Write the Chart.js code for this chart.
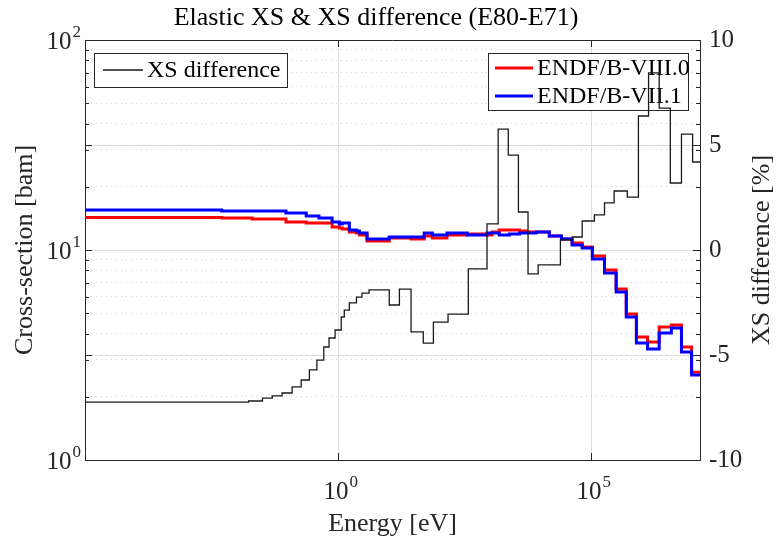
<!DOCTYPE html>
<html>
<head>
<meta charset="utf-8">
<title>Elastic XS & XS difference</title>
<script src="https://cdn.jsdelivr.net/npm/chart.js@4.4.1/dist/chart.umd.min.js"></script>
<style>
    body { margin: 0; background: #fff; }
    #wrap { width: 780px; height: 545px; }
</style>
</head>
<body>
<div id="wrap"><canvas id="xsChart" width="780" height="545"></canvas></div>
<script>
// Енергетична сітка (еВ) - ліві межі груп
const xsEnergy = [1e-5, 5e-3, 0.02, 0.093, 0.234, 0.417, 0.759, 1.05, 1.2, 1.66, 2.29, 2.63, 3.72,
    10.2, 27.5, 50.1, 72.4, 141, 355, 871, 1096, 1514, 2399, 3802, 5248, 8128, 14791, 25704,
    41687, 66069, 104713, 181970, 309030, 489779, 776247, 1.288e6, 2.188e6, 3.802e6, 6.026e6, 9.55e6, 1.4e7];
// Пружний переріз, барн
const xsE80 = [14.3, 14.21, 14.05, 13.6, 13.45, 13.45, 12.87, 12.73, 12.59, 12.18, 12.05, 11.79, 11.04,
    11.41, 11.28, 11.66, 11.41, 11.79, 11.92, 11.79, 12.18, 12.45, 12.45, 12.31, 12.18, 12.18, 11.66, 11.28,
    10.80, 10.33, 9.36, 8.03, 6.52, 4.96, 3.85, 3.65, 4.30, 4.39, 3.45, 2.62, 2.62];
const xsE71 = [15.5, 15.33, 15.33, 15.0, 14.52, 14.21, 13.6, 13.3, 13.45, 12.45, 12.31, 12.05, 11.28,
    11.53, 11.53, 12.05, 11.79, 12.05, 11.79, 12.05, 12.05, 11.79, 11.92, 12.05, 12.05, 12.18, 11.66, 11.28,
    10.56, 10.22, 9.06, 7.77, 6.31, 4.80, 3.61, 3.38, 4.03, 4.25, 3.27, 2.54, 2.54];

// Різниця перерізів (E80-E71), %
const diffEnergy = [1e-5, 0.017, 0.032, 0.05, 0.078, 0.123, 0.186, 0.27, 0.38, 0.52, 0.66, 0.87, 1.15,
    1.32, 1.66, 2.3, 2.95, 4.07, 10.2, 16.2, 27.5, 48, 76, 148, 372, 870, 1445, 2290, 3630, 5620, 8900,
    24500, 41700, 66000, 115000, 182000, 282000, 513000, 851000, 1.35e6, 2.19e6, 3.63e6, 6.03e6, 1e7, 1.4e7];
const diffPercent = [-7.24, -7.19, -7.05, -6.95, -6.81, -6.52, -6.19, -5.71, -5.24, -4.62, -4.19, -3.81, -3.19,
    -2.86, -2.52, -2.24, -2.05, -1.90, -2.62, -1.86, -3.90, -4.43, -3.43, -3.05, -0.90, 1.24, 5.76, 4.52, 1.81,
    -1.14, -0.71, 0.48, 0.62, 1.38, 1.67, 2.24, 2.81, 2.52, 6.38, 8.43, 6.76, 3.19, 5.52, 4.19, 4.19];

// Поділки осей
const xTickValues = [1, 1e5];
const xTickExponents = ['0', '5'];
const yTickValues = [1, 10, 100];
const yTickExponents = ['0', '1', '2'];
const yMinorValues = [2, 3, 4, 5, 6, 7, 8, 9, 20, 30, 40, 50, 60, 70, 80, 90];

const FONT = '"Liberation Serif", "Times New Roman", serif';
const INK = '#262626';
const GRID = '#dedede';

function toPoints(xs, ys) {
    return xs.map((x, i) => ({ x: x, y: ys[i] }));
}

// Текст з показником степеня: "10" + верхній індекс
function drawPower(ctx, exp, x, y, align) {
    ctx.font = '25px ' + FONT;
    const baseW = ctx.measureText('10').width;
    ctx.font = '17px ' + FONT;
    const expW = ctx.measureText(exp).width;
    const total = baseW + expW;
    let left = x;
    if (align === 'right') left = x - total;
    if (align === 'center') left = x - total / 2;
    ctx.textAlign = 'left';
    ctx.textBaseline = 'alphabetic';
    ctx.font = '25px ' + FONT;
    ctx.fillText('10', left, y + 9);
    ctx.font = '17px ' + FONT;
    ctx.fillText(exp, left + baseW + 1, y - 3);
}

function legendBox(ctx, x, y, w, h) {
    ctx.fillStyle = '#fff';
    ctx.fillRect(x, y, w, h);
    ctx.strokeStyle = INK;
    ctx.lineWidth = 1;
    ctx.strokeRect(x + 0.5, y + 0.5, w, h);
}

function legendItem(ctx, color, width, label, x1, x2, y) {
    ctx.strokeStyle = color;
    ctx.lineWidth = width;
    ctx.beginPath();
    ctx.moveTo(x1, y);
    ctx.lineTo(x2, y);
    ctx.stroke();
    ctx.fillStyle = '#000';
    ctx.font = '24px ' + FONT;
    ctx.textAlign = 'left';
    ctx.textBaseline = 'middle';
    ctx.fillText(label, x2 + 4, y + 1);
}

// Рамка, внутрішні поділки, підписи, легенди
const decorPlugin = {
    id: 'decor',
    beforeDatasetsDraw(chart) {
        const ctx = chart.ctx;
        const ds = chart.data.datasets;
        ctx.save();
        legendBox(ctx, 94, 53, 193, 34);
        legendItem(ctx, ds[0].borderColor, 1.3, ds[0].label, 103, 143, 70);
        legendBox(ctx, 488, 53, 200, 57);
        legendItem(ctx, ds[2].borderColor, 3, ds[2].label, 495, 533, 68);
        legendItem(ctx, ds[1].borderColor, 3, ds[1].label, 495, 533, 96);
        ctx.restore();
    },
    afterDraw(chart) {
        const ctx = chart.ctx;
        const a = chart.chartArea;
        const sx = chart.scales.x, sy = chart.scales.y, sy1 = chart.scales.y1;
        ctx.save();

        ctx.strokeStyle = INK;
        ctx.lineWidth = 1;
        ctx.beginPath();
        ctx.moveTo(a.left, a.top + 0.5);
        ctx.lineTo(a.right, a.top + 0.5);
        // поділки лівої осі (логарифмічні) з обох боків
        yTickValues.concat(yMinorValues).forEach(v => {
            const py = Math.round(sy.getPixelForValue(v)) + 0.5;
            const len = yTickValues.includes(v) ? 7 : 4;
            ctx.moveTo(a.left, py); ctx.lineTo(a.left + len, py);
            ctx.moveTo(a.right, py); ctx.lineTo(a.right - len, py);
        });
        [-5, 0, 5].forEach(v => {
            const py = Math.round(sy1.getPixelForValue(v)) + 0.5;
            ctx.moveTo(a.left, py); ctx.lineTo(a.left + 7, py);
            ctx.moveTo(a.right, py); ctx.lineTo(a.right - 7, py);
        });
        xTickValues.forEach(v => {
            const px = Math.round(sx.getPixelForValue(v)) + 0.5;
            ctx.moveTo(px, a.bottom); ctx.lineTo(px, a.bottom - 7);
            ctx.moveTo(px, a.top); ctx.lineTo(px, a.top + 7);
        });
        ctx.stroke();

        ctx.fillStyle = INK;
        yTickValues.forEach((v, i) => {
            drawPower(ctx, yTickExponents[i], 80, sy.getPixelForValue(v), 'right');
        });
        xTickValues.forEach((v, i) => {
            drawPower(ctx, xTickExponents[i], sx.getPixelForValue(v) + 2, a.bottom + 30, 'center');
        });

        ctx.font = '26px ' + FONT;
        ctx.textAlign = 'center';
        ctx.textBaseline = 'middle';
        ctx.fillText('Energy [eV]', (a.left + a.right) / 2, 524);
        ctx.fillStyle = '#000';
        ctx.fillText('Elastic XS & XS difference (E80-E71)', 376, 18);

        ctx.fillStyle = INK;
        ctx.save();
        ctx.translate(25, (a.top + a.bottom) / 2);
        ctx.rotate(-Math.PI / 2);
        ctx.fillText('Cross-section [bam]', 0, 0);
        ctx.restore();
        ctx.save();
        ctx.translate(762, (a.top + a.bottom) / 2);
        ctx.rotate(-Math.PI / 2);
        ctx.fillText('XS difference [%]', 0, 0);
        ctx.restore();

        ctx.restore();
    }
};

const ctx = document.getElementById('xsChart').getContext('2d');

const xsChart = new Chart(ctx, {
    type: 'line',
    data: {
        datasets: [
            {
                label: 'XS difference',
                data: toPoints(diffEnergy, diffPercent),
                yAxisID: 'y1',
                borderColor: '#1a1a1a',
                borderWidth: 1.3,
                stepped: true,
                pointRadius: 0
            },
            {
                label: 'ENDF/B-VII.1',
                data: toPoints(xsEnergy, xsE71),
                yAxisID: 'y',
                borderColor: '#0000ff',
                borderWidth: 3,
                stepped: true,
                pointRadius: 0
            },
            {
                label: 'ENDF/B-VIII.0',
                data: toPoints(xsEnergy, xsE80),
                yAxisID: 'y',
                borderColor: '#ff0000',
                borderWidth: 3,
                stepped: true,
                pointRadius: 0
            }
        ]
    },
    options: {
        responsive: false,
        animation: false,
        devicePixelRatio: 1,
        layout: { padding: { top: 40, left: 0, right: 0, bottom: 0 } },
        plugins: {
            legend: { display: false },
            title: { display: false },
            tooltip: { enabled: false }
        },
        scales: {
            x: {
                type: 'logarithmic',
                min: 1e-5,
                max: 1.4e7,
                afterBuildTicks: s => { s.ticks = xTickValues.map(v => ({ value: v })); },
                afterFit: s => { s.height = 85; },
                ticks: { display: false },
                grid: { color: GRID, lineWidth: 1, drawTicks: false },
                border: { color: INK, width: 1 }
            },
            y: {
                type: 'logarithmic',
                position: 'left',
                min: 1,
                max: 100,
                afterBuildTicks: s => {
                    s.ticks = yTickValues.concat(yMinorValues).sort((p, q) => p - q).map(v => ({ value: v }));
                },
                afterFit: s => { s.width = 85; },
                ticks: { display: false },
                grid: {
                    drawTicks: false,
                    color: c => (c.tick && yTickValues.includes(c.tick.value)) ? GRID : '#cfcfcf',
                    lineWidth: 1
                },
                border: {
                    color: INK,
                    width: 1,
                    dash: c => (c.tick && !yTickValues.includes(c.tick.value)) ? [1, 4] : []
                }
            },
            y1: {
                type: 'linear',
                position: 'right',
                min: -10,
                max: 10,
                afterFit: s => { s.width = 80; },
                ticks: {
                    stepSize: 5,
                    padding: 9,
                    color: INK,
                    font: { family: FONT, size: 25 }
                },
                grid: { color: GRID, lineWidth: 1, drawTicks: false },
                border: { color: INK, width: 1 }
            }
        }
    },
    plugins: [decorPlugin]
});
</script>
</body>
</html>
